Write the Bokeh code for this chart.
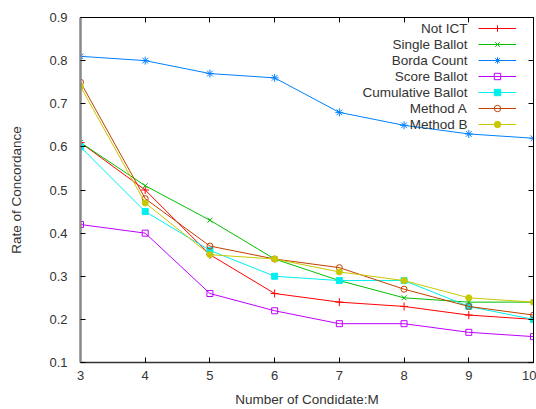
from bokeh.plotting import figure
from bokeh.models import (Legend, LegendItem, Label, LinearAxis, FixedTicker,
                          CustomJSTickFormatter, Range1d)
from bokeh.core.properties import value
from bokeh.embed import file_html
from bokeh.resources import INLINE

# ---- data ----
m_values = [3, 4, 5, 6, 7, 8, 9, 10]
not_ict = [0.61, 0.50, 0.35, 0.26, 0.24, 0.23, 0.21, 0.20]
single_ballot = [0.61, 0.51, 0.43, 0.34, 0.29, 0.25, 0.24, 0.24]
borda_count = [0.81, 0.80, 0.77, 0.76, 0.68, 0.65, 0.63, 0.62]
score_ballot = [0.42, 0.40, 0.26, 0.22, 0.19, 0.19, 0.17, 0.16]
cumulative_ballot = [0.60, 0.45, 0.36, 0.30, 0.29, 0.29, 0.23, 0.20]
method_a = [0.75, 0.48, 0.37, 0.34, 0.32, 0.27, 0.23, 0.21]
method_b = [0.74, 0.47, 0.35, 0.34, 0.31, 0.29, 0.25, 0.24]

series_names = ["Not ICT", "Single Ballot", "Borda Count", "Score Ballot",
                "Cumulative Ballot", "Method A", "Method B"]
x_ticks = [3, 4, 5, 6, 7, 8, 9, 10]
y_ticks = [0.1, 0.2, 0.3, 0.4, 0.5, 0.6, 0.7, 0.8, 0.9]
y_tick_labels = ["0.1", "0.2", "0.3", "0.4", "0.5", "0.6", "0.7", "0.8", "0.9"]
x_title = "Number of Condidate:M"
y_title = "Rate of Concordance"

series_values = [not_ict, single_ballot, borda_count, score_ballot,
                 cumulative_ballot, method_a, method_b]

# ---- styles ----
colors = ["#ff0000", "#00c000", "#0080ff", "#c000ff", "#00eeee", "#c04000", "#c8c800"]
markers = ["cross", "x", "asterisk", "square", "square", "circle", "circle"]
filled = [False, False, False, False, True, False, True]
msizes = [8, 7, 8, 6, 6, 6, 6]

FONT = "Liberation Sans"
TXT = "#333333"

p = figure(width=536, height=409, output_backend="svg", toolbar_location=None,
           x_range=Range1d(3, 10), y_range=Range1d(0.1, 0.9),
           min_border_left=80, min_border_right=3, min_border_top=17,
           min_border_bottom=46)
p.grid.visible = False
p.outline_line_color = "black"
p.outline_line_width = 1
p.background_fill_color = "white"
p.border_fill_color = "white"

# main axes
xa = p.xaxis[0]
ya = p.yaxis[0]
xa.ticker = FixedTicker(ticks=x_ticks)
ya.ticker = FixedTicker(ticks=y_ticks)
ya.major_label_overrides = {t: l for t, l in zip(y_ticks, y_tick_labels)}
for ax in (xa, ya):
    ax.major_tick_in = 5
    ax.major_tick_out = 0
    ax.minor_tick_line_color = None
    ax.major_tick_line_color = "black"
    ax.major_label_text_font = FONT
    ax.major_label_text_font_size = "13px"
    ax.major_label_text_color = TXT
    ax.axis_label_text_font = FONT
    ax.axis_label_text_font_size = "13.5px"
    ax.axis_label_text_font_style = "normal"
    ax.axis_label_text_color = TXT
xa.axis_label = x_title
ya.axis_label = y_title
ya.axis_line_color = "#888888"
ya.axis_line_width = 2.5
xa.axis_line_color = "#333333"
xa.axis_line_width = 1.5
ya.major_label_standoff = 13
xa.major_label_standoff = 8
ya.axis_label_standoff = 22
xa.axis_label_standoff = 9

# mirror ticks
blank = CustomJSTickFormatter(code="return ''")
top = LinearAxis(ticker=FixedTicker(ticks=x_ticks), formatter=blank,
                 major_tick_in=5, major_tick_out=0, minor_tick_line_color=None,
                 major_label_standoff=0, major_label_text_font_size="1px",
                 axis_line_color="black")
right = LinearAxis(ticker=FixedTicker(ticks=y_ticks), formatter=blank,
                   major_tick_in=5, major_tick_out=0, minor_tick_line_color=None,
                   major_label_standoff=0, major_label_text_font_size="1px",
                   axis_line_color="black")
p.add_layout(top, "above")
p.add_layout(right, "right")

items = []
for name, vals, c, mk, f, ms in zip(series_names, series_values, colors,
                                     markers, filled, msizes):
    ln = p.line(m_values, vals, line_color=c, line_width=1)
    sc = p.scatter(m_values, vals, marker=mk, size=ms, line_color=c,
                   line_width=1, fill_color=c if f else None)
    items.append(LegendItem(label=value(""), renderers=[ln, sc]))

legend = Legend(items=items, location=(398, 230), padding=0, margin=0,
                spacing=0, glyph_width=38, glyph_height=16, label_height=16,
                label_width=0, label_standoff=0, border_line_color=None,
                background_fill_alpha=0)
p.add_layout(legend, "center")

for i, name in enumerate(series_names):
    p.add_layout(Label(x=387, y=334 - 16 * i, x_units="screen", y_units="screen",
                       text=name, text_align="right", text_baseline="middle",
                       text_font=FONT, text_font_size="13.5px", text_color=TXT))

open("out.html", "w").write(file_html(p, INLINE))
